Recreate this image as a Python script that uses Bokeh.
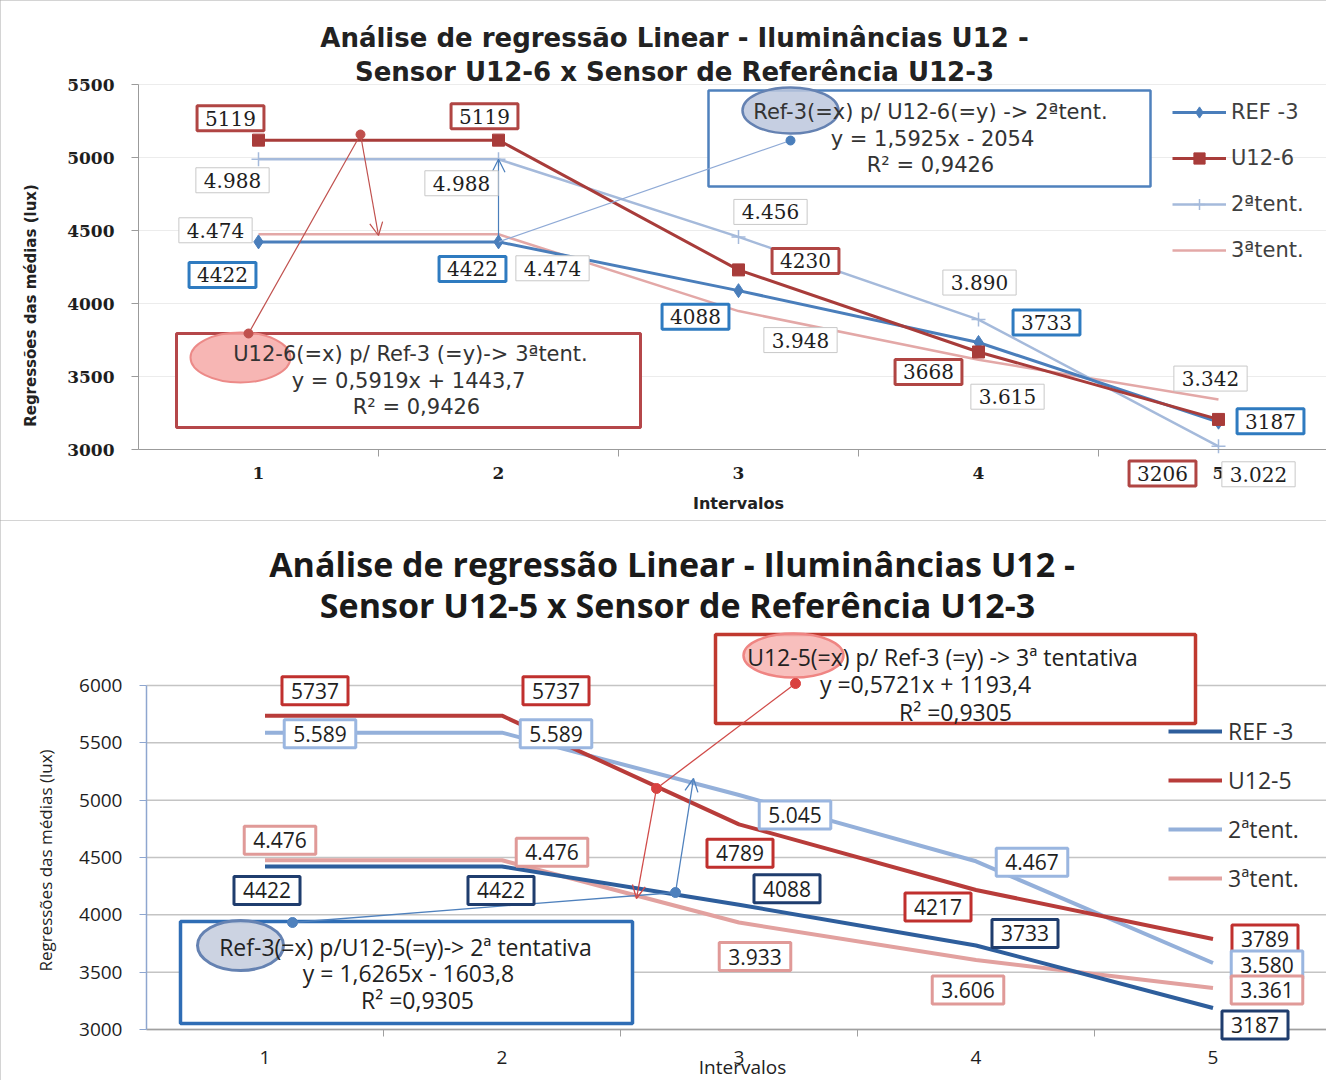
import math
from bokeh.plotting import figure
from bokeh.models import Range1d, FixedTicker, Label, Legend, LegendItem, Arrow, OpenHead
from bokeh.layouts import column
from bokeh.embed import file_html
from bokeh.resources import INLINE

# ---------------- data ----------------
intervals = [1, 2, 3, 4, 5]
between_ticks = [1.5, 2.5, 3.5, 4.5]

# Chart 1 : Sensor U12-6 x Sensor de Referência U12-3
c1_names = ["REF -3", "U12-6", "2ªtent.", "3ªtent."]
c1_ref3 = [4422, 4422, 4088, 3733, 3187]
c1_u126 = [5119, 5119, 4230, 3668, 3206]
c1_tent2 = [4988, 4988, 4456, 3890, 3022]
c1_tent3 = [4474, 4474, 3948, 3615, 3342]
c1_yticks = [3000, 3500, 4000, 4500, 5000, 5500]

# Chart 2 : Sensor U12-5 x Sensor de Referência U12-3
c2_names = ["REF -3", "U12-5", "2ªtent.", "3ªtent."]
c2_ref3 = [4422, 4422, 4088, 3733, 3187]
c2_u125 = [5737, 5737, 4789, 4217, 3789]
c2_tent2 = [5589, 5589, 5045, 4467, 3580]
c2_tent3 = [4476, 4476, 3933, 3606, 3361]
c2_yticks = [3000, 3500, 4000, 4500, 5000, 5500, 6000]


def fmt_int(v):
    return str(v)


def fmt_dot(v):
    return f"{v:,}".replace(",", ".")


W = 1326

# label offsets (pixels, right / up) relative to each data point
c1_off_u = [(-28, 22), (-14, 24), (67, 9), (-50, -20), (-56, -54)]
c1_off_r = [(-36, -33), (-26, -27), (-43, -26), (68, 20), (52, 1)]
c1_off_t2 = [(-26, -21), (-37, -24), (32, 25), (1, 37), (40, -28)]
c1_off_t3 = [(-43, 4), (54, -34), (62, -29), (29, -37), (-8, 21)]

c2_off_u = [(50, 25), (54, 25), (1, -29), (-38, -17), (52, 0)]
c2_off_t2 = [(55, -1), (54, -1), (56, -20), (56, -1), (54, -2)]
c2_off_t3 = [(15, 20), (50, 8), (16, -34), (-8, -30), (54, -2)]
c2_off_r = [(2, -24), (-1, -24), (48, 16), (49, 12), (42, -17)]


def add_box_label(p, x, y, text, off, font, size, border, bw, pad_h, pad_v, color="#1e1e1e"):
    p.add_layout(Label(x=x, y=y, x_offset=off[0], y_offset=off[1], text=text,
                       text_font=font, text_font_size=f"{size}px", text_color=color,
                       text_align="center", text_baseline="middle",
                       background_fill_color="white", border_line_color=border,
                       border_line_width=bw,
                       padding=dict(left=pad_h, right=pad_h, top=pad_v, bottom=pad_v)))


def add_text(p, xy, text, font, size, color="#1e1e1e", style="normal", angle=0.0):
    p.add_layout(Label(x=xy[0], y=xy[1], text=text, text_font=font,
                       text_font_size=f"{size}px", text_color=color, text_font_style=style,
                       text_align="center", text_baseline="middle", angle=angle))


def style_axes(p, yticks, x_end, font, ysize, xsize, ycolor, xcolor, ystyle, lw, xstand):
    p.outline_line_color = None
    p.xgrid.visible = False
    p.ygrid.visible = False
    p.yaxis.fixed_location = 0.5
    p.xaxis.fixed_location = 3000
    p.yaxis.ticker = FixedTicker(ticks=yticks)
    p.yaxis.bounds = (yticks[0], yticks[-1])
    p.yaxis.axis_line_color = ycolor
    p.yaxis.axis_line_width = lw
    p.yaxis.major_tick_out = 7
    p.yaxis.major_tick_in = 0
    p.yaxis.major_tick_line_color = ycolor
    p.yaxis.minor_tick_line_color = None
    p.yaxis.major_label_standoff = 17
    p.yaxis.major_label_text_font = font
    p.yaxis.major_label_text_font_size = f"{ysize}px"
    p.yaxis.major_label_text_font_style = ystyle
    p.yaxis.major_label_text_color = "#1e1e1e"
    p.xaxis.ticker = FixedTicker(ticks=intervals, minor_ticks=between_ticks)
    p.xaxis.bounds = (0.5, x_end)
    p.xaxis.axis_line_color = xcolor
    p.xaxis.axis_line_width = lw
    p.xaxis.major_tick_out = 0
    p.xaxis.major_tick_in = 0
    p.xaxis.minor_tick_out = 7
    p.xaxis.minor_tick_in = 0
    p.xaxis.minor_tick_line_color = xcolor
    p.xaxis.major_label_standoff = xstand
    p.xaxis.major_label_text_font = font
    p.xaxis.major_label_text_font_size = f"{xsize}px"
    p.xaxis.major_label_text_font_style = ystyle
    p.xaxis.major_label_text_color = "#1e1e1e"


# ================= Chart 1 =================
H1 = 520
PX1 = 240.0
PY1 = 73.0 / 500.0
X1_0, Y1_0 = 258.0, 449.0          # page pixel of (interval 1, 3000 lux)
x1_start = 1 - X1_0 / PX1
x1_end = x1_start + W / PX1
p1 = figure(width=W, height=H1, output_backend="svg", toolbar_location=None,
            x_range=Range1d(x1_start, x1_end),
            y_range=Range1d(3000 - (H1 - Y1_0) / PY1, 3000 + Y1_0 / PY1),
            min_border_left=0, min_border_right=0, min_border_top=0, min_border_bottom=0)
p1.styles = {"outline": "1px solid #a8a8a8", "outline-offset": "-1px"}
style_axes(p1, c1_yticks, x1_end, "DejaVu Serif", 17, 17, "#9B9B9B", "#9B9B9B", "bold", 1, 10)


def d1(px, py):
    return (1 + (px - X1_0) / PX1, 3000 + (Y1_0 - py) / PY1)


# horizontal grid lines
p1.segment(x0=[0.5] * len(c1_yticks), x1=[x1_end] * len(c1_yticks), y0=c1_yticks, y1=c1_yticks,
           line_color="#ECECEC", line_width=1)

col1_ref, col1_u, col1_t2, col1_t3 = "#4A7EBB", "#A83C3A", "#A5BADB", "#E3A8A7"

l_t3 = p1.line(intervals, c1_tent3, line_width=2.5, color=col1_t3)
l_t2 = p1.line(intervals, c1_tent2, line_width=2.5, color=col1_t2)
m_t2 = p1.scatter(intervals, c1_tent2, marker="cross", size=14, line_width=1.5, color=col1_t2)
l_r = p1.line(intervals, c1_ref3, line_width=3, color=col1_ref)
m_r = p1.scatter(intervals, c1_ref3, marker="diamond", size=14, color=col1_ref)
l_u = p1.line(intervals, c1_u126, line_width=3, color=col1_u)
m_u = p1.scatter(intervals, c1_u126, marker="square", size=12, color=col1_u)

# regression callouts (chart 1)
bl, bt = d1(708, 90)
br, bb = d1(1150, 186)
p1.quad(left=bl, right=br, top=bt, bottom=bb, fill_color="white", line_color="#4F81BD", line_width=2.5)
rl, rt = d1(176, 333)
rr, rb = d1(640, 427)
p1.quad(left=rl, right=rr, top=rt, bottom=rb, fill_color="white", line_color="#B5474A", line_width=3)
ex, ey = d1(790, 110)
p1.ellipse(x=ex, y=ey, width=96 / PX1, height=46 / PY1, fill_color="#BCC7DD", fill_alpha=0.85,
           line_color="#6582B2", line_width=2.5)
ex, ey = d1(240, 357)
p1.ellipse(x=ex, y=ey, width=100 / PX1, height=50 / PY1, fill_color="#F6A9A7", fill_alpha=0.85,
           line_color="#EC8A88", line_width=2)
a = (intervals[1], c1_ref3[1])
b = d1(790, 140)
p1.line([a[0], b[0]], [a[1], b[1]], line_width=1.2, color="#8FAAD6")
p1.scatter([b[0]], [b[1]], size=9, color=col1_ref)
c = d1(248, 333)
dtop = d1(360, 134)
p1.line([c[0], dtop[0]], [c[1], dtop[1]], line_width=1.2, color="#C0504D")
p1.scatter([c[0], dtop[0]], [c[1], dtop[1]], size=9, color="#C0504D")
aend = d1(378, 235)
p1.add_layout(Arrow(x_start=dtop[0], y_start=dtop[1], x_end=aend[0], y_end=aend[1],
                    line_color="#C0504D", line_width=1.2,
                    end=OpenHead(size=13, line_color="#C0504D", line_width=1.2)))
p1.add_layout(Arrow(x_start=intervals[1], y_start=c1_ref3[1], x_end=intervals[1], y_end=c1_tent2[1],
                    line_color="#4A7EBB", line_width=1.2,
                    end=OpenHead(size=13, line_color="#4A7EBB", line_width=1.2)))

# data labels chart 1
for i, x in enumerate(intervals):
    add_box_label(p1, x, c1_u126[i], fmt_int(c1_u126[i]), c1_off_u[i], "DejaVu Serif", 20, "#B04543", 3, 8, 5)
for i, x in enumerate(intervals):
    add_box_label(p1, x, c1_ref3[i], fmt_int(c1_ref3[i]), c1_off_r[i], "DejaVu Serif", 20, "#2F7BC0", 3, 8, 5)
for i, x in enumerate(intervals):
    add_box_label(p1, x, c1_tent2[i], fmt_dot(c1_tent2[i]), c1_off_t2[i], "DejaVu Serif", 20, "#C8C8C8", 1, 8, 5)
for i, x in enumerate(intervals):
    add_box_label(p1, x, c1_tent3[i], fmt_dot(c1_tent3[i]), c1_off_t3[i], "DejaVu Serif", 20, "#C8C8C8", 1, 8, 5)

# callout texts chart 1
add_text(p1, d1(930, 111), "Ref-3(=x) p/ U12-6(=y) -> 2ªtent.", "DejaVu Sans", 21, "#333333")
add_text(p1, d1(932, 138), "y = 1,5925x - 2054", "DejaVu Sans", 21, "#333333")
add_text(p1, d1(930, 164), "R² = 0,9426", "DejaVu Sans", 21, "#333333")
add_text(p1, d1(410, 353), "U12-6(=x) p/ Ref-3 (=y)-> 3ªtent.", "DejaVu Sans", 21, "#333333")
add_text(p1, d1(408, 380), "y = 0,5919x + 1443,7", "DejaVu Sans", 21, "#333333")
add_text(p1, d1(416, 406), "R² = 0,9426", "DejaVu Sans", 21, "#333333")

# titles and axis titles chart 1
add_text(p1, d1(674, 37), "Análise de regressão Linear - Iluminâncias U12 -", "DejaVu Sans", 26, "#222222", "bold")
add_text(p1, d1(674, 71), "Sensor U12-6 x Sensor de Referência U12-3", "DejaVu Sans", 26, "#222222", "bold")
add_text(p1, d1(30, 305), "Regressões das médias (lux)", "DejaVu Sans", 15, "#222222", "bold", math.pi / 2)
add_text(p1, d1(738, 503), "Intervalos", "DejaVu Sans", 16, "#222222", "bold")

leg1 = Legend(items=[LegendItem(label=c1_names[0], renderers=[l_r, m_r]),
                     LegendItem(label=c1_names[1], renderers=[l_u, m_u]),
                     LegendItem(label=c1_names[2], renderers=[l_t2, m_t2]),
                     LegendItem(label=c1_names[3], renderers=[l_t3])],
              location=(1172, H1 - 264), orientation="vertical",
              glyph_width=54, glyph_height=28, label_height=28, spacing=18,
              label_standoff=5, padding=0, margin=0,
              border_line_alpha=0, background_fill_alpha=0,
              label_text_font="DejaVu Sans", label_text_font_size="21px",
              label_text_color="#404040")
p1.add_layout(leg1)

# ================= Chart 2 =================
H2 = 560
TOP2 = 520  # page y of chart 2 top
PX2 = 237.0
PY2 = 57.33 / 500.0
X2_0, Y2_0 = 264.5, 1029.0
x2_start = 1 - X2_0 / PX2
x2_end = x2_start + W / PX2
p2 = figure(width=W, height=H2, output_backend="svg", toolbar_location=None,
            x_range=Range1d(x2_start, x2_end),
            y_range=Range1d(3000 - (TOP2 + H2 - Y2_0) / PY2, 3000 + (Y2_0 - TOP2) / PY2),
            min_border_left=0, min_border_right=0, min_border_top=0, min_border_bottom=0)
p2.styles = {"outline": "1px solid #a8a8a8", "outline-offset": "-1px"}
style_axes(p2, c2_yticks, x2_end, "Open Sans", 19, 19, "#8EA6CF", "#A0A0A0", "normal", 1.5, 14)


def d2(px, py):
    return (1 + (px - X2_0) / PX2, 3000 + (Y2_0 - py) / PY2)


p2.segment(x0=[0.5] * len(c2_yticks), x1=[x2_end] * len(c2_yticks), y0=c2_yticks, y1=c2_yticks,
           line_color="#C4C4C4", line_width=1.5)

col2_ref, col2_u, col2_t2, col2_t3 = "#2E5E9C", "#B83C3A", "#94B0DA", "#E2A19F"

k_t3 = p2.line(intervals, c2_tent3, line_width=4, color=col2_t3)
k_t2 = p2.line(intervals, c2_tent2, line_width=4, color=col2_t2)
k_r = p2.line(intervals, c2_ref3, line_width=4, color=col2_ref)
k_u = p2.line(intervals, c2_u125, line_width=4, color=col2_u)

# regression callouts chart 2
bl, bt = d2(715, 634)
br, bb = d2(1195, 723)
p2.quad(left=bl, right=br, top=bt, bottom=bb, fill_color="white", line_color="#C0392F", line_width=3.5)
bl, bt = d2(180, 921)
br, bb = d2(632, 1023)
p2.quad(left=bl, right=br, top=bt, bottom=bb, fill_color="white", line_color="#2F6DB5", line_width=3.5)
ex, ey = d2(793, 655)
p2.ellipse(x=ex, y=ey, width=100 / PX2, height=44 / PY2, fill_color="#F7B4B2", fill_alpha=0.85,
           line_color="#EF8583", line_width=2.5)
ex, ey = d2(240, 945)
p2.ellipse(x=ex, y=ey, width=86 / PX2, height=50 / PY2, fill_color="#C3CBDD", fill_alpha=0.85,
           line_color="#6582B2", line_width=3)
r_dot = d2(795, 683)
r_mid = d2(656, 788)
r_end = d2(636, 898)
p2.line([r_dot[0], r_mid[0]], [r_dot[1], r_mid[1]], line_width=1.3, color="#D04A48")
p2.scatter([r_dot[0], r_mid[0]], [r_dot[1], r_mid[1]], size=10, color="#D9413F")
p2.add_layout(Arrow(x_start=r_mid[0], y_start=r_mid[1], x_end=r_end[0], y_end=r_end[1],
                    line_color="#D04A48", line_width=1.3,
                    end=OpenHead(size=13, line_color="#D04A48", line_width=1.3)))
b_dot = d2(292, 922)
b_mid = d2(675, 892)
b_end = d2(693, 778)
p2.line([b_dot[0], b_mid[0]], [b_dot[1], b_mid[1]], line_width=1.3, color="#4F81BD")
p2.scatter([b_dot[0], b_mid[0]], [b_dot[1], b_mid[1]], size=10, color="#4F81BD")
p2.add_layout(Arrow(x_start=b_mid[0], y_start=b_mid[1], x_end=b_end[0], y_end=b_end[1],
                    line_color="#4F81BD", line_width=1.3,
                    end=OpenHead(size=13, line_color="#4F81BD", line_width=1.3)))

# data labels chart 2
for i, x in enumerate(intervals):
    add_box_label(p2, x, c2_u125[i], fmt_int(c2_u125[i]), c2_off_u[i], "Open Sans", 21, "#C0302E", 3, 9, 6)
for i, x in enumerate(intervals):
    add_box_label(p2, x, c2_tent2[i], fmt_dot(c2_tent2[i]), c2_off_t2[i], "Open Sans", 21, "#9AB6E0", 3, 9, 6)
for i, x in enumerate(intervals):
    add_box_label(p2, x, c2_tent3[i], fmt_dot(c2_tent3[i]), c2_off_t3[i], "Open Sans", 21, "#E09A98", 3, 9, 6)
for i, x in enumerate(intervals):
    add_box_label(p2, x, c2_ref3[i], fmt_int(c2_ref3[i]), c2_off_r[i], "Open Sans", 21, "#1F3D6E", 3, 9, 6)

# callout texts chart 2
add_text(p2, d2(942, 656), "U12-5(=x) p/ Ref-3 (=y) -> 3ª tentativa", "Open Sans", 23, "#222222")
add_text(p2, d2(925, 683), "y =0,5721x + 1193,4", "Open Sans", 23, "#222222")
add_text(p2, d2(955, 711), "R² =0,9305", "Open Sans", 23, "#222222")
add_text(p2, d2(405, 946), "Ref-3(=x) p/U12-5(=y)-> 2ª tentativa", "Open Sans", 23, "#222222")
add_text(p2, d2(408, 972), "y = 1,6265x - 1603,8", "Open Sans", 23, "#222222")
add_text(p2, d2(417, 999), "R² =0,9305", "Open Sans", 23, "#222222")

# titles chart 2
add_text(p2, d2(676, 563), "Análise de regressão Linear - Iluminâncias  U12 -", "Open Sans", 34, "#1a1a1a", "bold")
add_text(p2, d2(677, 604), "Sensor U12-5 x Sensor de Referência U12-3", "Open Sans", 34, "#1a1a1a", "bold")
add_text(p2, d2(45, 860), "Regressões das médias (lux)", "Open Sans", 17, "#222222", "normal", math.pi / 2)
add_text(p2, d2(742, 1066), "Intervalos", "Open Sans", 19, "#222222")

leg2 = Legend(items=[LegendItem(label=c2_names[0], renderers=[k_r]),
                     LegendItem(label=c2_names[1], renderers=[k_u]),
                     LegendItem(label=c2_names[2], renderers=[k_t2]),
                     LegendItem(label=c2_names[3], renderers=[k_t3])],
              location=(1168, TOP2 + H2 - 895), orientation="vertical",
              glyph_width=54, glyph_height=34, label_height=34, spacing=15,
              label_standoff=6, padding=0, margin=0,
              border_line_alpha=0, background_fill_alpha=0,
              label_text_font="Open Sans", label_text_font_size="23px",
              label_text_color="#333333")
p2.add_layout(leg2)

layout = column(p1, p2, spacing=0)
open("out.html", "w").write(file_html(layout, INLINE))
